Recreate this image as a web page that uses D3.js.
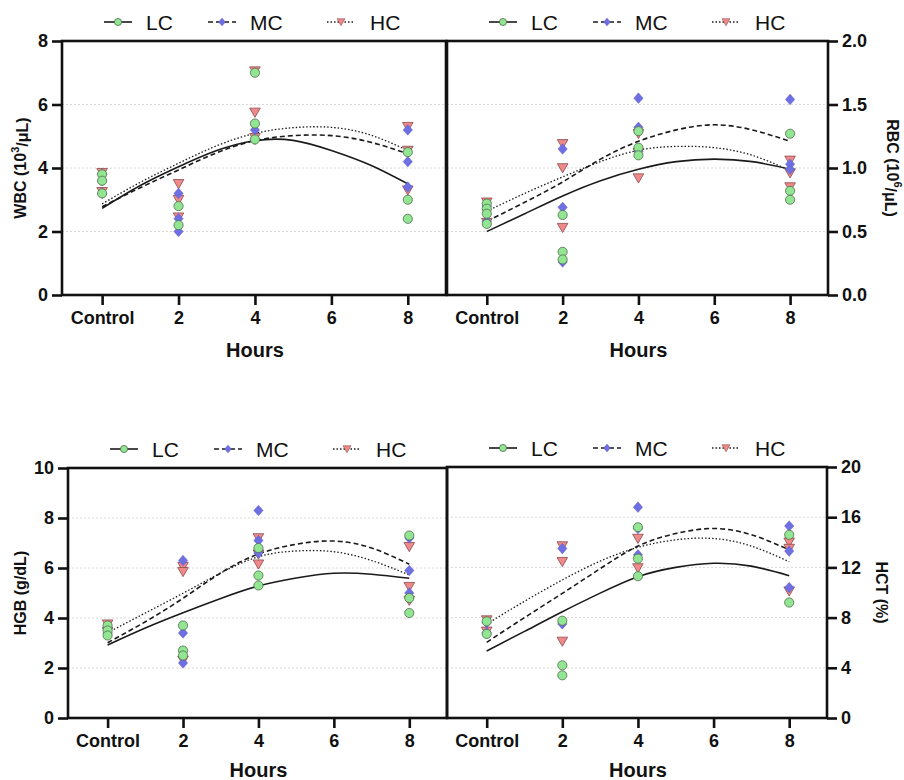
<!DOCTYPE html>
<html>
<head>
<meta charset="utf-8">
<script src="https://cdn.jsdelivr.net/npm/d3@7"></script>
<style>
  body{margin:0;background:#fff;}
  text{font-family:Arial,"Liberation Sans",sans-serif;fill:#111;}
</style>
</head>
<body>
<div class="container"></div>
<script>
// sampling times (Control = 0)
var hours=[0,2,4,8];
var fitHours=[0,1,2,3,4,5,6,7,8];
var groupNames=["LC","MC","HC"];

// WBC (10^3/uL) - one inner list per time point
var wbcLC=[[3.8,3.6,3.2],[2.8,2.2],[7.0,5.4,4.9],[4.5,3.0,2.4]];
var wbcMC=[[3.8,3.6,3.2],[3.2,2.4,2.0],[5.2,4.9],[5.2,4.2,3.4]];
var wbcHC=[[3.85,3.25],[3.5,3.0,2.45],[7.05,5.75,4.95],[5.3,4.55,3.3]];
var wbcFitLC=[2.73,3.45,4.04,4.55,4.86,4.87,4.55,4.1,3.5];
var wbcFitMC=[2.78,3.38,3.94,4.48,4.86,5.02,5.02,4.82,4.45];
var wbcFitHC=[2.87,3.55,4.15,4.7,5.09,5.27,5.28,5.05,4.55];

// RBC (10^6/uL)
var rbcLC=[[0.72,0.68,0.64,0.56],[0.63,0.34,0.28],[1.29,1.16,1.10],[1.27,0.82,0.75]];
var rbcMC=[[0.70,0.58],[1.15,0.69,0.26],[1.55,1.32,1.13],[1.54,1.03,0.99]];
var rbcHC=[[0.73,0.57],[1.19,1.00,0.53],[1.27,1.12,0.92],[1.06,0.96,0.85]];
var rbcFitLC=[0.50,0.64,0.78,0.90,0.99,1.05,1.07,1.05,0.99];
var rbcFitMC=[0.58,0.73,0.89,1.07,1.21,1.30,1.34,1.30,1.21];
var rbcFitHC=[0.66,0.80,0.93,1.05,1.14,1.17,1.16,1.10,0.98];

// HGB (g/dL)
var hgbLC=[[3.7,3.5,3.3],[3.7,2.7,2.5],[6.8,5.7,5.3],[7.3,4.8,4.2]];
var hgbMC=[[3.6,3.4],[6.3,3.4,2.2],[8.3,7.1,6.6],[7.2,5.9,5.0]];
var hgbHC=[[3.75,3.45],[6.05,5.85,2.3],[7.2,6.55,6.15],[6.85,5.25,4.7]];
var hgbFitLC=[2.92,3.6,4.21,4.78,5.28,5.6,5.79,5.75,5.59];
var hgbFitMC=[3.01,3.85,4.79,5.8,6.56,6.95,7.08,6.8,6.15];
var hgbFitHC=[3.41,4.2,4.99,5.8,6.45,6.68,6.65,6.3,5.72];

// HCT (%)
var hctLC=[[7.7,6.7],[7.75,4.2,3.4],[15.2,12.7,11.3],[14.6,9.2]];
var hctMC=[[7.6,6.8],[13.5,7.5],[16.8,15.1,13.0],[15.3,13.3,10.4]];
var hctHC=[[7.8,6.9],[13.7,12.45,6.1],[14.3,11.95],[14.0,13.5,10.1]];
var hctFitLC=[5.34,6.9,8.47,9.95,11.26,12.0,12.33,12.1,11.34];
var hctFitMC=[6.03,8.0,9.93,11.9,13.7,14.7,15.1,14.6,13.4];
var hctFitHC=[7.49,9.3,11.0,12.5,13.6,14.2,14.3,13.7,12.45];

var xTicks=[0,2,4,6,8];

var w=904;
var h=780;
var svg=d3.select(".container")
  .append("svg")
  .attr("width",w)
  .attr("height",h);

// marker shapes
var diamond={draw:function(ctx){
  ctx.moveTo(0,-5.3);ctx.lineTo(4.7,0);ctx.lineTo(0,5.3);ctx.lineTo(-4.7,0);ctx.closePath();
}};
var triDown={draw:function(ctx){
  ctx.moveTo(-5.3,-4.3);ctx.lineTo(5.3,-4.3);ctx.lineTo(0,4.9);ctx.closePath();
}};

var styles={
  LC:{fill:"#92e692",stroke:"#4f6b4f",sw:0.8,dash:null,sym:d3.symbolCircle,size:66},
  MC:{fill:"#6f6fe4",stroke:"#5555c0",sw:0.4,dash:"5,3",sym:diamond,size:1},
  HC:{fill:"#f08a8a",stroke:"#8a4a4a",sw:0.8,dash:"1.5,2",sym:triDown,size:1}
};

var panels=[
  {x0:62,x1:446,y0:41,y1:295,ymax:8,yticks:[0,2,4,6,8],side:"left",fmt:d3.format("d"),
   pts:{LC:wbcLC,MC:wbcMC,HC:wbcHC},fit:{LC:wbcFitLC,MC:wbcFitMC,HC:wbcFitHC},
   title:["WBC (10","3","/\u03bcL)"],tx:20},
  {x0:447,x1:828,y0:41,y1:295,ymax:2,yticks:[0,0.5,1,1.5,2],side:"right",fmt:d3.format(".1f"),
   pts:{LC:rbcLC,MC:rbcMC,HC:rbcHC},fit:{LC:rbcFitLC,MC:rbcFitMC,HC:rbcFitHC},
   title:["RBC (10","6","/\u03bcL)"],tx:893},
  {x0:68,x1:447,y0:468,y1:718,ymax:10,yticks:[0,2,4,6,8,10],side:"left",fmt:d3.format("d"),
   pts:{LC:hgbLC,MC:hgbMC,HC:hgbHC},fit:{LC:hgbFitLC,MC:hgbFitMC,HC:hgbFitHC},
   title:["HGB (g/dL)"],tx:20},
  {x0:447,x1:827,y0:467,y1:718,ymax:20,yticks:[0,4,8,12,16,20],side:"right",fmt:d3.format("d"),
   pts:{LC:hctLC,MC:hctMC,HC:hctHC},fit:{LC:hctFitLC,MC:hctFitMC,HC:hctFitHC},
   title:["HCT (%)"],tx:882}
];

// legend offsets from the panel's left edge
var legLine=[42,146,265];
var legText=[84,188,308];

panels.forEach(function(p){
  var xs=d3.scaleLinear().domain([-1.05,9]).range([p.x0,p.x1]);
  var ys=d3.scaleLinear().domain([0,p.ymax]).range([p.y1,p.y0]);
  var g=svg.append("g");

  // dotted grid lines
  g.selectAll(".grid")
    .data(p.yticks.filter(function(d){return d>0 && d<p.ymax;}))
    .enter().append("line")
    .attr("x1",p.x0).attr("x2",p.x1)
    .attr("y1",function(d){return ys(d);})
    .attr("y2",function(d){return ys(d);})
    .attr("stroke","#d8d8d8")
    .attr("stroke-width",1)
    .attr("stroke-dasharray","2,2");

  // fitted curves
  var line=d3.line()
    .x(function(d,i){return xs(fitHours[i]);})
    .y(function(d){return ys(d);})
    .curve(d3.curveNatural);
  groupNames.forEach(function(k){
    g.append("path")
      .attr("d",line(p.fit[k]))
      .attr("fill","none")
      .attr("stroke","#1a1a1a")
      .attr("stroke-width",k=="HC"?1.3:1.6)
      .attr("stroke-dasharray",styles[k].dash);
  });

  // points, HC at the bottom, LC on top
  ["HC","MC","LC"].forEach(function(k){
    var s=styles[k];
    var flat=[];
    p.pts[k].forEach(function(vals,i){
      vals.forEach(function(v){flat.push({t:hours[i],v:v});});
    });
    g.selectAll(".pt"+k)
      .data(flat)
      .enter().append("path")
      .attr("d",d3.symbol().type(s.sym).size(s.size))
      .attr("transform",function(d){return "translate("+xs(d.t)+","+ys(d.v)+")";})
      .attr("fill",s.fill)
      .attr("stroke",s.stroke)
      .attr("stroke-width",s.sw);
  });

  // frame
  g.append("rect")
    .attr("x",p.x0).attr("y",p.y0)
    .attr("width",p.x1-p.x0).attr("height",p.y1-p.y0)
    .attr("fill","none")
    .attr("stroke","#111")
    .attr("stroke-width",2.6);

  // x axis
  var xAxis=d3.axisBottom(xs)
    .tickValues(xTicks)
    .tickSize(10)
    .tickPadding(6)
    .tickFormat(function(d){return d==0?"Control":d;});
  var gx=g.append("g")
    .attr("transform","translate(0,"+p.y1+")")
    .call(xAxis);
  gx.select(".domain").remove();
  gx.selectAll("line").attr("stroke","#111").attr("stroke-width",2.6);
  gx.selectAll("text").attr("font-size",18).attr("font-weight","bold").attr("fill","#111");

  // bottom row title sits at the page edge, keep it just inside
  g.append("text")
    .attr("x",xs(4)).attr("y",Math.min(p.y1+62,h-3))
    .attr("text-anchor","middle")
    .attr("font-size",20).attr("font-weight","bold")
    .text("Hours");

  // y axis
  var yAxis=(p.side=="left"?d3.axisLeft(ys):d3.axisRight(ys))
    .tickValues(p.yticks)
    .tickSize(10)
    .tickPadding(4)
    .tickFormat(p.fmt);
  var gy=g.append("g")
    .attr("transform","translate("+(p.side=="left"?p.x0:p.x1)+",0)")
    .call(yAxis);
  gy.select(".domain").remove();
  gy.selectAll("line").attr("stroke","#111").attr("stroke-width",2.6);
  gy.selectAll("text").attr("font-size",18).attr("font-weight","bold").attr("fill","#111");

  // y title
  var my=(p.y0+p.y1)/2;
  var tt=g.append("text")
    .attr("transform","translate("+p.tx+","+my+") rotate("+(p.side=="left"?-90:90)+")")
    .attr("text-anchor","middle")
    .attr("dominant-baseline","central")
    .attr("font-size",16).attr("font-weight","bold");
  tt.append("tspan").text(p.title[0]);
  if(p.title.length>1){
    tt.append("tspan").attr("dy","-0.45em").attr("font-size",11).text(p.title[1]);
    tt.append("tspan").attr("dy","0.45em").text(p.title[2]);
  }

  // legend row above the panel
  var ly=p.y0-19;
  groupNames.forEach(function(k,i){
    var s=styles[k];
    var lx=p.x0+legLine[i];
    g.append("line")
      .attr("x1",lx).attr("x2",lx+28)
      .attr("y1",ly).attr("y2",ly)
      .attr("stroke","#1a1a1a")
      .attr("stroke-width",k=="HC"?1.3:1.6)
      .attr("stroke-dasharray",s.dash);
    g.append("path")
      .attr("d",d3.symbol().type(s.sym).size(k=="LC"?40:1))
      .attr("transform","translate("+(lx+14)+","+ly+")"+(k=="LC"?"":" scale(0.75)"))
      .attr("fill",s.fill)
      .attr("stroke",s.stroke)
      .attr("stroke-width",s.sw);
    g.append("text")
      .attr("x",p.x0+legText[i]).attr("y",ly)
      .attr("dominant-baseline","central")
      .attr("font-size",21)
      .text(k);
  });
});
</script>
</body>
</html>
